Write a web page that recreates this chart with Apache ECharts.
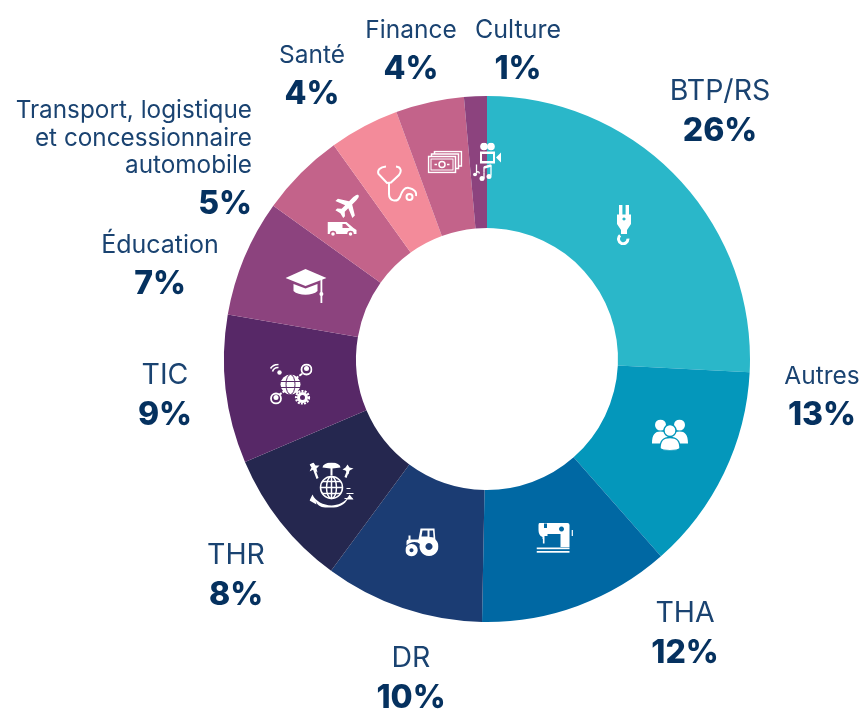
<!DOCTYPE html>
<html lang="fr">
<head>
<meta charset="UTF-8">
<title>Répartition par secteur</title>
<style>
    html,body{margin:0;padding:0;background:#fff;}
    #main{width:859px;height:709px;}
</style>
<script src="https://cdn.jsdelivr.net/npm/echarts@6/dist/echarts.min.js"></script>
</head>
<body>
<div id="main"></div>
<script>
    // sectors, clockwise from 12 o'clock
    var sectors = ['BTP/RS', 'Autres', 'THA', 'DR', 'THR', 'TIC', 'Éducation', 'Transport, logistique\net concessionnaire\nautomobile', 'Santé', 'Finance', 'Culture'];
    // printed percentages
    var printed = [26, 13, 12, 10, 8, 9, 7, 5, 4, 4, 1];
    // slice sizes
    var shares = [25.8, 12.7, 11.8, 9.8, 8.5, 9.1, 7.2, 5.2, 4.3, 4.2, 1.4];
    var colors = ['#2ab7c9', '#0497bb', '#0068a3', '#1b3c73', '#25274f', '#572867', '#8c437e', '#c3638a', '#f38b9a', '#c3638a', '#8c437e'];

    // label anchors: x, top y, align, name style
    var labelSpots = [
        [720, 76, 'center', 'b'], [822, 363, 'center', 'n'], [685, 598, 'center', 'b'], [411, 643, 'center', 'b'],
        [236, 540, 'center', 'b'], [165, 360, 'center', 'b'], [160, 232, 'center', 't'], [252, 97, 'right', 's'],
        [312, 42, 'center', 'n'], [411, 17, 'center', 'n'], [518, 17, 'center', 't']
    ];
    // icon centres and sizes
    var iconSpots = [
        [624, 225, 15, 40], [670, 435, 36, 31], [555, 538, 37, 30], [422, 542, 33, 29],
        [332, 485, 45, 45], [291, 384, 43, 41], [306, 286, 41, 34], [344, 215, 33, 44],
        [397, 184, 40, 38], [445, 162, 35, 23], [487, 162, 28, 39]
    ];

    function svgIcon(w, h, body) {
        var s = '<svg xmlns="http://www.w3.org/2000/svg" width="' + w + '" height="' + h + '" viewBox="0 0 ' + w + ' ' + h + '" fill="#fff" stroke="none">' + body + '</svg>';
        return 'data:image/svg+xml;charset=utf-8,' + encodeURIComponent(s);
    }

    var iconBodies = [
        // plug + hook
        '<rect x="2.5" y="0" width="3.4" height="10"/><rect x="9.1" y="0" width="3.4" height="10"/>' +
        '<path fill-rule="evenodd" d="M0.5 9.5H14.5V19L10.5 25V29H4.5V25L0.5 19ZM7.5 12.4a1.6 1.6 0 1 0 .01 0Z"/>' +
        '<path d="M3.6 30.4A4.7 4.7 0 1 0 11.4 33.6" fill="none" stroke="#fff" stroke-width="3"/>',
        // people
        '<circle cx="8.5" cy="5.5" r="5.5"/><circle cx="27.5" cy="5.5" r="5.5"/>' +
        '<path d="M0 24C0 15 3 12 8.5 12S17 15 17 24ZM19 24C19 15 22 12 27.5 12S36 15 36 24Z"/>' +
        '<circle cx="18" cy="11" r="6" stroke="#0497bb" stroke-width="1.4"/>' +
        '<path d="M8 29C8 21 11 18 18 18S28 21 28 29C26 32 10 32 8 29Z" stroke="#0497bb" stroke-width="1.4"/>',
        // sewing machine
        '<path fill-rule="evenodd" d="M3 0H31Q33 0 33 2V24H24V11H11V13H8V16H6V14C3 13 2 10 2 7V2Q2 0 3 0ZM25 3.5a2.5 2.5 0 1 0 .01 0ZM7.5 0.5V5H10.5V0.5Z"/>' +
        '<rect x="6.4" y="16" width="1.6" height="4.5"/><rect x="35.2" y="7" width="1.2" height="6"/>' +
        '<rect x="0" y="24.5" width="33" height="1.7"/><rect x="0" y="28" width="33" height="1.7"/>',
        // tractor
        '<path fill-rule="evenodd" d="M3 8H5V12H13L15 1H29L30 14C24 10 18 12 15 17C11 13 5 14 1 18V14Q1 12 3 12ZM17 3L16 9H22V3ZM24 3V10H28L27.5 3Z"/>' +
        '<path fill-rule="evenodd" d="M23.5 9.5a9.5 9.5 0 1 0 .01 0ZM23.5 15.5a3.5 3.5 0 1 1 -.01 0Z"/>' +
        '<path fill-rule="evenodd" d="M6 16.5a6.2 6.2 0 1 0 .01 0ZM6 20.7a2 2 0 1 1 -.01 0Z"/>',
        // globe, palms, parasol
        '<g fill="none" stroke="#fff" stroke-width="1.5"><circle cx="22" cy="25" r="11"/><ellipse cx="22" cy="25" rx="5" ry="11"/>' +
        '<path d="M11 25H33M13 19H31M13 31H31M22 14V36"/><path d="M8 16L4 5M36 15L39 7" stroke-width="2.2"/>' +
        '<path d="M35 36H43M37 31H44M37 26H41" stroke-width="1"/></g>' +
        '<path d="M3 32C8 44 30 48 39 34C36 48 9 50 6 38L7 42L0 38Z"/>' +
        '<path d="M13 5A9 5 0 0 1 31 5L23 6V13H21V6Z"/>' +
        '<path d="M4 0L6 3L10 3L7 6L8 10L4 7L0 9L2 5L0 2Z"/><path d="M38 2L40 5L44 6L40 8L39 12L36 8L33 7L36 5Z"/><path d="M40 32L44 37H37Z"/>',
        // network globe
        '<g fill="none" stroke="#fff"><circle cx="37" cy="6" r="5" stroke-width="1.8"/><circle cx="6.5" cy="35" r="5" stroke-width="1.8"/>' +
        '<path d="M26 15L33 10M16 27L10 31M26 27L30 31" stroke-width="2" stroke-dasharray="3.5 1.2"/>' +
        '<path d="M1 5A9 9 0 0 1 9 1M3 8A6 6 0 0 1 9 4" stroke-width="1.6"/><circle cx="33" cy="34" r="4" stroke-width="3"/>' +
        '<circle cx="33" cy="34" r="6.5" stroke-width="2.2" stroke-dasharray="2 1.2"/></g>' +
        '<circle cx="21" cy="21" r="10"/><g fill="none" stroke="#572867" stroke-width="1"><path d="M11 18H31M11 24H31"/><ellipse cx="21" cy="21" rx="4.5" ry="10"/></g>' +
        '<circle cx="37" cy="5" r="2.5"/><circle cx="6.5" cy="34" r="2.5"/><circle cx="10" cy="9" r="2.2"/>',
        // graduation cap
        '<path d="M0 9L20 0L41 9L20 17Z"/><path d="M8 15L20 19.5L32 15V22C27 27 13 27 8 22Z"/>' +
        '<rect x="35" y="10" width="1.8" height="24"/><circle cx="35.9" cy="25" r="2"/>',
        // plane + van
        '<g transform="translate(21 12) rotate(45)"><path d="M0 -14C1.5 -14 2.2 -12 2.2 -9V-3L12 3V6.5L2.2 2.5V7.5L5.5 10.5V13L0 11.5L-5.5 13V10.5L-2.2 7.5V2.5L-12 6.5V3L-2.2 -3V-9C-2.2 -12 -1.5 -14 0 -14Z"/></g>' +
        '<path fill-rule="evenodd" d="M0 29H19L26 35L29 37V41H0ZM15 31V35H22L18 31Z"/>' +
        '<circle cx="5.5" cy="41" r="2.5" stroke="#c3638a" stroke-width="1.5"/><circle cx="23" cy="41" r="2.5" stroke="#c3638a" stroke-width="1.5"/>',
        // stethoscope
        '<g fill="none" stroke="#fff" stroke-width="2"><path d="M9 1.5C3 2 0 5 1.5 9L10 18L14 17.5L22 10C25 6 24 2 19 1.5"/>' +
        '<path d="M12 18V29C12 36 20 38 23 32C25 26 28 22 32 23C37 24 40 27 39 31"/><circle cx="32.5" cy="32" r="3"/></g>',
        // banknotes
        '<g fill="none" stroke="#fff" stroke-width="1.5"><rect x="1" y="6" width="27" height="16"/><path d="M4 6V3.5H31V18H28M7 3.5V1H34V15.5H31"/>' +
        '<rect x="3.5" y="8.5" width="22" height="11" stroke-width="1"/><circle cx="14.5" cy="14" r="3"/><path d="M7 14H9.5M19.5 14H22"/></g>',
        // film camera + notes
        '<circle cx="11" cy="4" r="3.8"/><circle cx="18" cy="4" r="3.8"/>' +
        '<path fill-rule="evenodd" d="M7 9H22V21H7ZM9 11.5V18.5H20V11.5Z"/><path d="M23 15L28 10V20Z"/>' +
        '<g fill="none" stroke="#fff" stroke-width="1.3"><path d="M3.5 22V31C4 28 6 29 6.5 31M11 30V25L18 23V33"/><path d="M11 25L18 23" stroke-width="2.5"/></g>' +
        '<ellipse cx="2" cy="32" rx="2" ry="1.7"/><ellipse cx="9" cy="36" rx="2.5" ry="2.5"/><ellipse cx="16" cy="34" rx="2.5" ry="2.5"/><path d="M11 30V36" stroke="#fff" stroke-width="1.3"/>'
    ];

    var iconRich = {};
    iconBodies.forEach(function (body, i) {
        iconRich['i' + i] = {
            width: iconSpots[i][2],
            height: iconSpots[i][3],
            backgroundColor: {image: svgIcon(iconSpots[i][2], iconSpots[i][3], body)}
        };
    });

    function labelText(i) {
        var style = labelSpots[i][3];
        var lines = sectors[i].split('\n').map(function (l) { return '{' + style + '|' + l + '}'; });
        return lines.join('\n') + '\n{p|' + printed[i] + '%}';
    }

    var pieData = sectors.map(function (name, i) {
        return {value: shares[i], name: name, itemStyle: {color: colors[i]}};
    });

    var myChart = echarts.init(document.getElementById('main'), null, {renderer: 'canvas'});

    var option = {
        animation: false,
        backgroundColor: '#fff',
        series: [
            {
                type: 'pie',
                center: [487, 359],
                radius: [131, 263],
                startAngle: 90,
                silent: true,
                data: pieData,
                labelLine: {show: false},
                label: {
                    show: true,
                    position: 'outside',
                    overflow: 'none',
                    formatter: function (p) { return labelText(p.dataIndex); },
                    rich: {
                        n: {fontFamily: 'Inter', fontSize: 24.5, lineHeight: 27.5, color: '#1a4371'},
                        s: {fontFamily: 'Inter', fontSize: 24.3, lineHeight: 27.5, color: '#1a4371'},
                        t: {fontFamily: 'Inter', fontSize: 25, lineHeight: 27.5, color: '#1a4371'},
                        b: {fontFamily: 'Inter', fontSize: 28.5, lineHeight: 30, color: '#1a4371'},
                        p: {fontFamily: 'Inter', fontSize: 32, fontWeight: 800, lineHeight: 50, color: '#05315f'}
                    }
                },
                labelLayout: function (p) {
                    var s = labelSpots[p.dataIndex];
                    return {x: s[0], y: s[1], align: s[2], verticalAlign: 'top'};
                }
            },
            {
                // transparent copy that only carries the white icons
                type: 'pie',
                center: [487, 359],
                radius: [131, 263],
                startAngle: 90,
                silent: true,
                itemStyle: {color: 'transparent'},
                data: shares.map(function (v, i) { return {value: v, name: 'icon' + i}; }),
                labelLine: {show: false},
                label: {
                    show: true,
                    position: 'inside',
                    formatter: function (p) { return '{i' + p.dataIndex + '| }'; },
                    rich: iconRich
                },
                labelLayout: function (p) {
                    var s = iconSpots[p.dataIndex];
                    return {x: s[0], y: s[1], align: 'center', verticalAlign: 'middle'};
                }
            }
        ]
    };

    myChart.setOption(option);
</script>
</body>
</html>
